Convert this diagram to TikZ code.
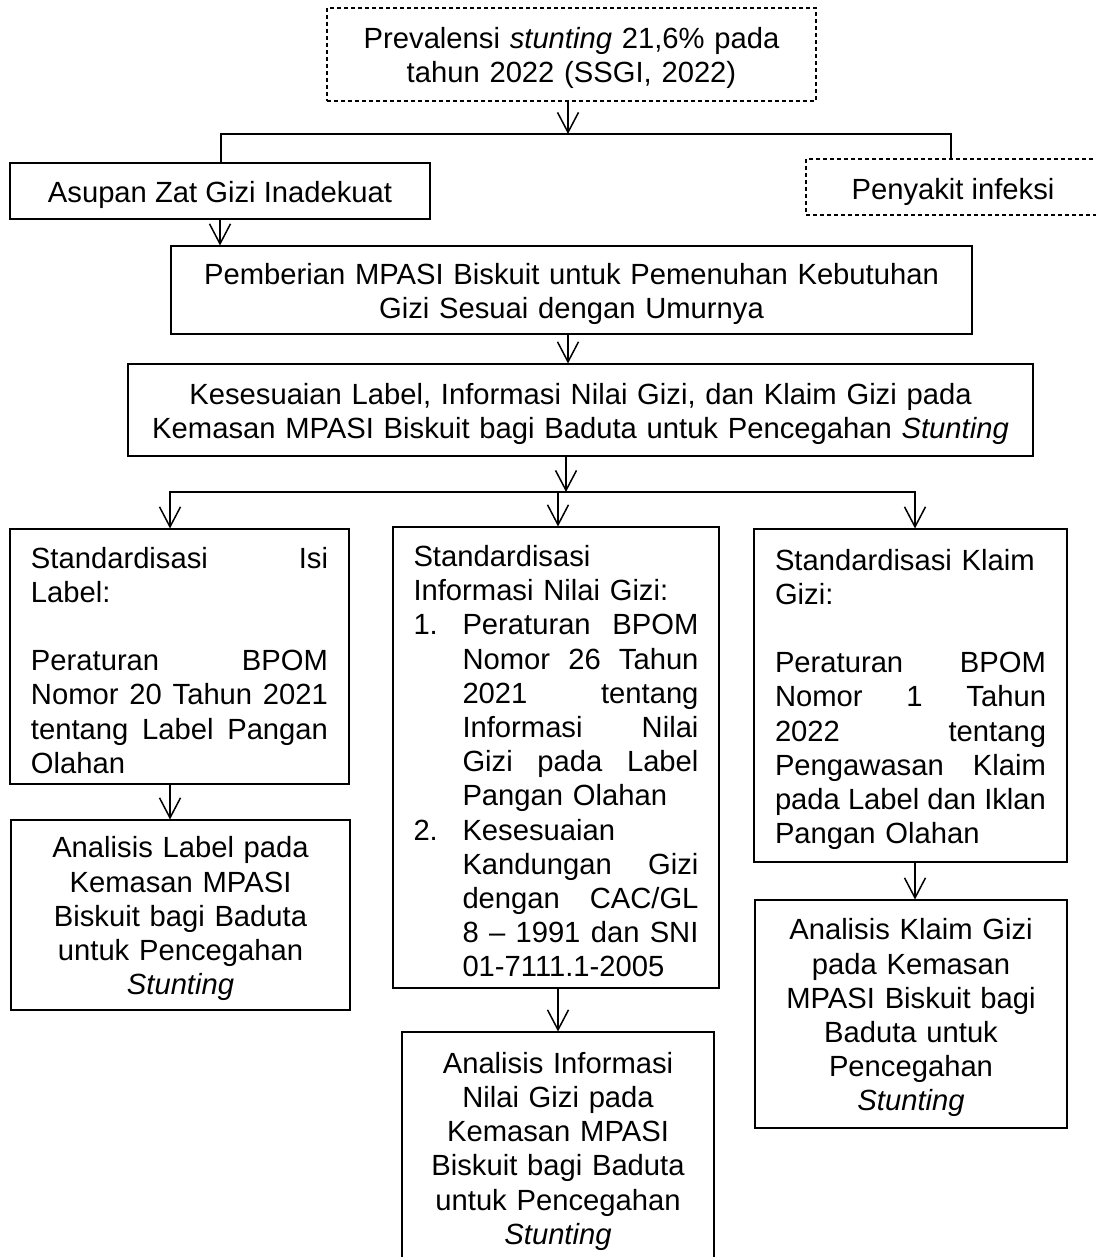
\documentclass[tikz,border=0pt]{standalone}
\usepackage{fontspec}
\setmainfont{Liberation Sans}
\usetikzlibrary{arrows.meta}
\newcommand\dgfont{\fontsize{14.6pt}{17.1pt}\selectfont}
\newcommand\jl[1]{\noindent\hbox to\hsize{#1\hfil}\par}
\newcommand\itm[1]{\makebox[24.5pt][l]{#1}}
\newcommand\ind{\hspace*{24.5pt}}
\begin{document}
\begin{tikzpicture}[x=0.5pt,y=-0.5pt,
  box/.style={draw, line width=0.55pt, inner sep=0pt, font=\dgfont, align=center},
  mbox/.style={box, execute at begin node={\rule{0pt}{14.4pt}}},
  dbox/.style={box, dash pattern=on 2pt off 1.5pt},
  jbox/.style={mbox, align=left},
  conn/.style={line width=0.75pt, line cap=rect},
  arr/.style={line width=0.75pt, -{Straight Barb[length=10pt,width=10.5pt]}}]
\useasboundingbox (0,0) rectangle (1096,1257);

\node[dbox, mbox, minimum width=244.5pt, minimum height=46.5pt, text width=236pt] (top) at (571.5,54.5)
  {Prevalensi \textit{stunting} 21,6\% pada\\tahun 2022 (SSGI, 2022)};
\node[box, minimum width=210pt, minimum height=28pt, text height=12pt, text depth=0pt] (asupan) at (220,191)
  {Asupan Zat Gizi Inadekuat};
\node[dbox, minimum width=147pt, minimum height=28pt, text height=12.5pt, text depth=0pt] (penyakit) at (953,187)
  {Penyakit infeksi};
\node[mbox, minimum width=400.5pt, minimum height=44pt, text width=392pt] (pemb) at (571.5,290)
  {Pemberian MPASI Biskuit untuk Pemenuhan Kebutuhan\\Gizi Sesuai dengan Umurnya};
\node[mbox, minimum width=452.5pt, minimum height=46pt, text width=446pt] (kes) at (580.5,410)
  {Kesesuaian Label, Informasi Nilai Gizi, dan Klaim Gizi pada\\Kemasan MPASI Biskuit bagi Baduta untuk Pencegahan \textit{Stunting}};

\node[jbox, minimum width=169.5pt, minimum height=127.5pt, text width=148.5pt] (b1) at (179.5,656.5)
  {\jl{Standardisasi\hfill Isi}
   \jl{Label:}
   \jl{}
   \jl{Peraturan\hfill BPOM}
   \jl{Nomor\hfill 20\hfill Tahun\hfill 2021}
   \jl{tentang\hfill Label\hfill Pangan}
   \jl{Olahan}};
\node[jbox, minimum width=163pt, minimum height=230.5pt, text width=142.5pt] (b2) at (556,757.5)
  {\jl{Standardisasi}
   \jl{Informasi Nilai Gizi:}
   \jl{\itm{1.}Peraturan\hfill BPOM}
   \jl{\ind Nomor\hfill 26\hfill Tahun}
   \jl{\ind 2021\hfill tentang}
   \jl{\ind Informasi\hfill Nilai}
   \jl{\ind Gizi\hfill pada\hfill Label}
   \jl{\ind Pangan Olahan}
   \jl{\itm{2.}Kesesuaian}
   \jl{\ind Kandungan\hfill Gizi}
   \jl{\ind dengan\hfill CAC/GL}
   \jl{\ind 8\hfill –\hfill 1991\hfill dan\hfill SNI}
   \jl{\ind 01-7111.1-2005}};
\node[jbox, minimum width=156.5pt, minimum height=166.5pt, text width=135.5pt] (b3) at (910.5,695.5)
  {\jl{Standardisasi Klaim}
   \jl{Gizi:}
   \jl{}
   \jl{Peraturan\hfill BPOM}
   \jl{Nomor\hfill 1\hfill Tahun}
   \jl{2022\hfill tentang}
   \jl{Pengawasan\hfill Klaim}
   \jl{pada\hfill Label\hfill dan\hfill Iklan}
   \jl{Pangan Olahan}};

\node[mbox, minimum width=169.5pt, minimum height=95pt, text width=160pt] (anlabel) at (180.5,915)
  {Analisis Label pada\\Kemasan MPASI\\Biskuit bagi Baduta\\untuk Pencegahan\\\textit{Stunting}};
\node[mbox, minimum width=156pt, minimum height=115.5pt, text width=150pt] (aninfo) at (558,1147.5)
  {Analisis Informasi\\Nilai Gizi pada\\Kemasan MPASI\\Biskuit bagi Baduta\\untuk Pencegahan\\\textit{Stunting}};
\node[mbox, minimum width=156pt, minimum height=114pt, text width=150pt] (anklaim) at (911,1014)
  {Analisis Klaim Gizi\\pada Kemasan\\MPASI Biskuit bagi\\Baduta untuk\\Pencegahan\\\textit{Stunting}};

% connectors
\coordinate (cL) at (221,134);
\coordinate (cM) at (568,134);
\coordinate (cR) at (951,134);
\draw[arr] (top.south -| cM) -- (cM);
\draw[conn] (asupan.north -| cL) -- (cL) -- (cR) -- (penyakit.north -| cR);
\draw[arr] (asupan.south) -- (asupan.south |- pemb.north);
\coordinate (ax) at (568,0);
\draw[arr] (pemb.south -| ax) -- (kes.north -| ax);
\coordinate (dM) at (566,492);
\coordinate (dL) at (170,492);
\coordinate (dC) at (558,492);
\coordinate (dR) at (915,492);
\draw[arr] (kes.south -| dM) -- (dM);
\draw[conn] (dL) -- (dR);
\draw[arr] (dL) -- (b1.north -| dL);
\draw[arr] (dC) -- (b2.north -| dC);
\draw[arr] (dR) -- (b3.north -| dR);
\draw[arr] (b1.south -| dL) -- (anlabel.north -| dL);
\draw[arr] (b2.south -| dC) -- (aninfo.north -| dC);
\draw[arr] (b3.south -| dR) -- (anklaim.north -| dR);
\end{tikzpicture}
\end{document}
